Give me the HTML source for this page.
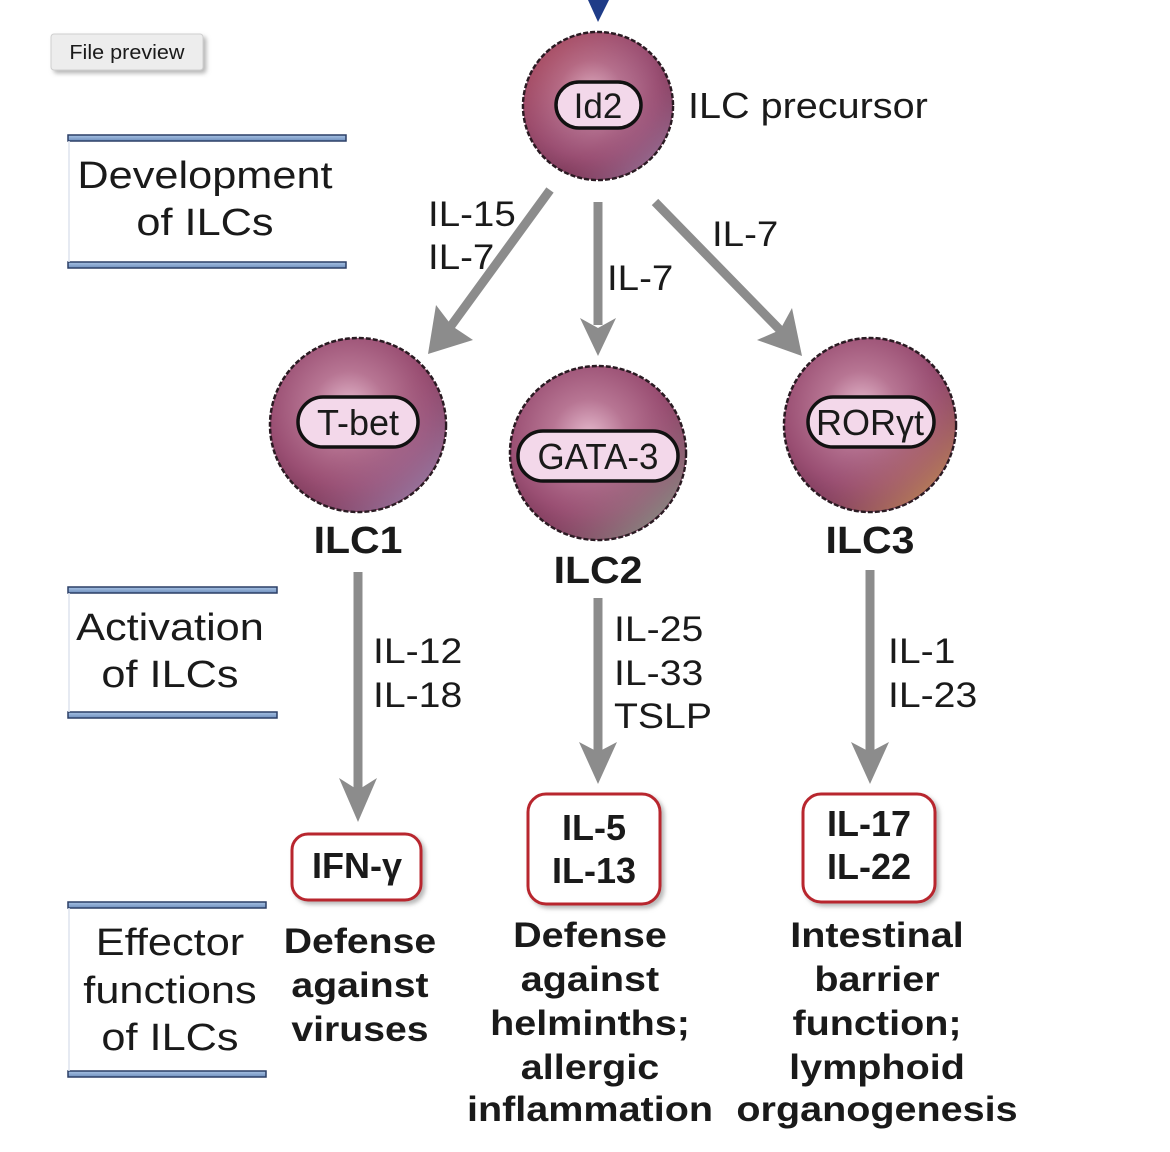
<!DOCTYPE html>
<html><head><meta charset="utf-8"><style>
body{margin:0;background:#fff;width:1170px;height:1152px;overflow:hidden}
svg{display:block}
text{font-family:"Liberation Sans",Arial,sans-serif;fill:#1a1a1a}
.b{font-weight:bold}
</style></head><body>
<svg width="1170" height="1152" viewBox="0 0 1170 1152" xmlns="http://www.w3.org/2000/svg">
<defs>
<radialGradient id="cg" cx="45%" cy="40%" r="60%">
<stop offset="0" stop-color="#e4b8cc"/><stop offset="0.35" stop-color="#b77593"/><stop offset="0.75" stop-color="#9a4f73"/><stop offset="1" stop-color="#7d3a5a"/>
</radialGradient>
<linearGradient id="rim1" x1="0" y1="0" x2="1" y2="1"><stop offset="0.5" stop-color="#9a4f73" stop-opacity="0"/><stop offset="1" stop-color="#a9a7d8" stop-opacity="0.9"/></linearGradient>
<linearGradient id="rim2" x1="0" y1="0" x2="1" y2="1"><stop offset="0.5" stop-color="#9a4f73" stop-opacity="0"/><stop offset="1" stop-color="#8fc9a0" stop-opacity="0.9"/></linearGradient>
<linearGradient id="rim3" x1="0" y1="0" x2="1" y2="1"><stop offset="0.5" stop-color="#9a4f73" stop-opacity="0"/><stop offset="1" stop-color="#e0b050" stop-opacity="0.95"/></linearGradient>
<linearGradient id="rim0" x1="0" y1="0" x2="1" y2="1"><stop offset="0" stop-color="#c0403a" stop-opacity="0.5"/><stop offset="0.6" stop-color="#9a4f73" stop-opacity="0"/><stop offset="1" stop-color="#b0b0dd" stop-opacity="0.8"/></linearGradient>
<linearGradient id="bar" x1="0" y1="0" x2="0" y2="1"><stop offset="0" stop-color="#a9c3e4"/><stop offset="1" stop-color="#6f90bf"/></linearGradient>
<filter id="sh" x="-10%" y="-10%" width="130%" height="130%"><feDropShadow dx="3" dy="3" stdDeviation="2" flood-color="#888" flood-opacity="0.6"/></filter>
</defs>

<path d="M588,0 L609,0 L598,22 Z" fill="#1f3c88"/>

<rect x="51" y="34" width="152" height="36" rx="3" fill="#ededed" stroke="#cfcfcf" filter="url(#sh)"/>
<text x="127" y="59" text-anchor="middle" style="font-size:20px" fill="#333" transform="matrix(1.08,0,0,1,-10.2,0)">File preview</text>

<g>
<rect x="68" y="135" width="278" height="6" fill="url(#bar)" stroke="#2b3f66" stroke-width="1.5"/>
<rect x="68" y="262" width="278" height="6" fill="url(#bar)" stroke="#2b3f66" stroke-width="1.5"/>
<line x1="69" y1="141" x2="69" y2="262" stroke="#dde3ee" stroke-width="1.5"/>
<text x="205" y="188" text-anchor="middle" style="font-size:38px" transform="matrix(1.14,0,0,1,-28.7,0)">Development</text>
<text x="205" y="235" text-anchor="middle" style="font-size:38px" transform="matrix(1.14,0,0,1,-28.7,0)">of ILCs</text>

<rect x="68" y="587" width="209" height="6" fill="url(#bar)" stroke="#2b3f66" stroke-width="1.5"/>
<rect x="68" y="712" width="209" height="6" fill="url(#bar)" stroke="#2b3f66" stroke-width="1.5"/>
<line x1="69" y1="593" x2="69" y2="712" stroke="#dde3ee" stroke-width="1.5"/>
<text x="170" y="640" text-anchor="middle" style="font-size:38px" transform="matrix(1.14,0,0,1,-23.8,0)">Activation</text>
<text x="170" y="687" text-anchor="middle" style="font-size:38px" transform="matrix(1.14,0,0,1,-23.8,0)">of ILCs</text>

<rect x="68" y="902" width="198" height="6" fill="url(#bar)" stroke="#2b3f66" stroke-width="1.5"/>
<rect x="68" y="1071" width="198" height="6" fill="url(#bar)" stroke="#2b3f66" stroke-width="1.5"/>
<line x1="69" y1="908" x2="69" y2="1071" stroke="#dde3ee" stroke-width="1.5"/>
<text x="170" y="955" text-anchor="middle" style="font-size:38px" transform="matrix(1.14,0,0,1,-23.8,0)">Effector</text>
<text x="170" y="1003" text-anchor="middle" style="font-size:38px" transform="matrix(1.14,0,0,1,-23.8,0)">functions</text>
<text x="170" y="1050" text-anchor="middle" style="font-size:38px" transform="matrix(1.14,0,0,1,-23.8,0)">of ILCs</text>
</g>

<g stroke="#8c8c8c" stroke-width="9" fill="none">
<line x1="550" y1="190" x2="448" y2="330"/>
<line x1="598" y1="202" x2="598" y2="325"/>
<line x1="655" y1="202" x2="782" y2="332"/>
<line x1="358" y1="572" x2="358" y2="790"/>
<line x1="598" y1="598" x2="598" y2="752"/>
<line x1="870" y1="570" x2="870" y2="752"/>
</g>
<g fill="#8c8c8c">
<path d="M428,354 L436,305 L452,326 L473,340 Z"/>
<path d="M598,356 L580,318 L598,328 L616,318 Z"/>
<path d="M802,356 L757,340 L780,330 L792,308 Z"/>
<path d="M358,822 L339,778 L358,790 L377,778 Z"/>
<path d="M598,784 L579,742 L598,752 L617,742 Z"/>
<path d="M870,784 L851,742 L870,752 L889,742 Z"/>
</g>

<g style="font-size:35px">
<text x="428" y="226" transform="matrix(1.1,0,0,1,-42.8,0)">IL-15</text>
<text x="428" y="269" transform="matrix(1.1,0,0,1,-42.8,0)">IL-7</text>
<text x="607" y="290" transform="matrix(1.1,0,0,1,-60.7,0)">IL-7</text>
<text x="712" y="246" transform="matrix(1.1,0,0,1,-71.2,0)">IL-7</text>
<text x="373" y="663" transform="matrix(1.12,0,0,1,-44.8,0)">IL-12</text>
<text x="373" y="707" transform="matrix(1.12,0,0,1,-44.8,0)">IL-18</text>
<text x="614" y="641" transform="matrix(1.12,0,0,1,-73.7,0)">IL-25</text>
<text x="614" y="685" transform="matrix(1.12,0,0,1,-73.7,0)">IL-33</text>
<text x="614" y="728" transform="matrix(1.12,0,0,1,-73.7,0)">TSLP</text>
<text x="888" y="663" transform="matrix(1.12,0,0,1,-106.6,0)">IL-1</text>
<text x="888" y="707" transform="matrix(1.12,0,0,1,-106.6,0)">IL-23</text>
</g>

<g stroke="#2a1a22" stroke-width="2.5" stroke-dasharray="5 2">
<ellipse cx="598" cy="106" rx="75" ry="74" fill="url(#cg)"/>
<ellipse cx="358" cy="425" rx="88" ry="87" fill="url(#cg)"/>
<ellipse cx="598" cy="453" rx="88" ry="87" fill="url(#cg)"/>
<ellipse cx="870" cy="425" rx="86" ry="87" fill="url(#cg)"/>
</g>
<ellipse cx="598" cy="106" rx="74" ry="73" fill="url(#rim0)"/>
<ellipse cx="358" cy="425" rx="87" ry="86" fill="url(#rim1)"/>
<ellipse cx="598" cy="453" rx="87" ry="86" fill="url(#rim2)"/>
<ellipse cx="870" cy="425" rx="85" ry="86" fill="url(#rim3)"/>
<g fill="#f3d8ea" stroke="#111" stroke-width="3.5">
<rect x="556" y="82" width="85" height="46" rx="23"/>
<rect x="298" y="397" width="120" height="50" rx="25"/>
<rect x="518" y="431" width="160" height="50" rx="25"/>
<rect x="808" y="397" width="126" height="50" rx="25"/>
</g>
<text x="598" y="118" text-anchor="middle" style="font-size:35px">Id2</text>
<text x="358" y="435" text-anchor="middle" style="font-size:36px">T-bet</text>
<text x="598" y="469" text-anchor="middle" style="font-size:36px" transform="matrix(0.97,0,0,1,17.9,0)">GATA-3</text>
<text x="870" y="435" text-anchor="middle" style="font-size:36px">RORγt</text>
<text x="688" y="118" style="font-size:36px" transform="matrix(1.1,0,0,1,-68.8,0)">ILC precursor</text>

<text x="358" y="553" text-anchor="middle" class="b" style="font-size:38px" transform="matrix(1.08,0,0,1,-28.6,0)">ILC1</text>
<text x="598" y="583" text-anchor="middle" class="b" style="font-size:38px" transform="matrix(1.08,0,0,1,-47.8,0)">ILC2</text>
<text x="870" y="553" text-anchor="middle" class="b" style="font-size:38px" transform="matrix(1.08,0,0,1,-69.6,0)">ILC3</text>

<g fill="#fff" stroke="#b8262e" stroke-width="3" filter="url(#sh)">
<rect x="292" y="834" width="129" height="66" rx="16"/>
<rect x="528" y="794" width="132" height="110" rx="18"/>
<rect x="803" y="794" width="132" height="108" rx="18"/>
</g>
<text x="357" y="878" text-anchor="middle" class="b" style="font-size:36px">IFN-γ</text>
<text x="594" y="840" text-anchor="middle" class="b" style="font-size:36px">IL-5</text>
<text x="594" y="883" text-anchor="middle" class="b" style="font-size:36px">IL-13</text>
<text x="869" y="836" text-anchor="middle" class="b" style="font-size:36px">IL-17</text>
<text x="869" y="879" text-anchor="middle" class="b" style="font-size:36px">IL-22</text>

<g class="b" style="font-size:35px">
<text x="360" y="953" text-anchor="middle" transform="matrix(1.12,0,0,1,-43.2,0)">Defense</text>
<text x="360" y="997" text-anchor="middle" transform="matrix(1.12,0,0,1,-43.2,0)">against</text>
<text x="360" y="1041" text-anchor="middle" transform="matrix(1.12,0,0,1,-43.2,0)">viruses</text>

<text x="590" y="947" text-anchor="middle" transform="matrix(1.13,0,0,1,-76.7,0)">Defense</text>
<text x="590" y="991" text-anchor="middle" transform="matrix(1.13,0,0,1,-76.7,0)">against</text>
<text x="590" y="1035" text-anchor="middle" transform="matrix(1.13,0,0,1,-76.7,0)">helminths;</text>
<text x="590" y="1079" text-anchor="middle" transform="matrix(1.13,0,0,1,-76.7,0)">allergic</text>
<text x="590" y="1121" text-anchor="middle" transform="matrix(1.13,0,0,1,-76.7,0)">inflammation</text>

<text x="877" y="947" text-anchor="middle" transform="matrix(1.13,0,0,1,-114,0)">Intestinal</text>
<text x="877" y="991" text-anchor="middle" transform="matrix(1.13,0,0,1,-114,0)">barrier</text>
<text x="877" y="1035" text-anchor="middle" transform="matrix(1.13,0,0,1,-114,0)">function;</text>
<text x="877" y="1079" text-anchor="middle" transform="matrix(1.13,0,0,1,-114,0)">lymphoid</text>
<text x="877" y="1121" text-anchor="middle" transform="matrix(1.13,0,0,1,-114,0)">organogenesis</text>
</g>
</svg>
</body></html>
